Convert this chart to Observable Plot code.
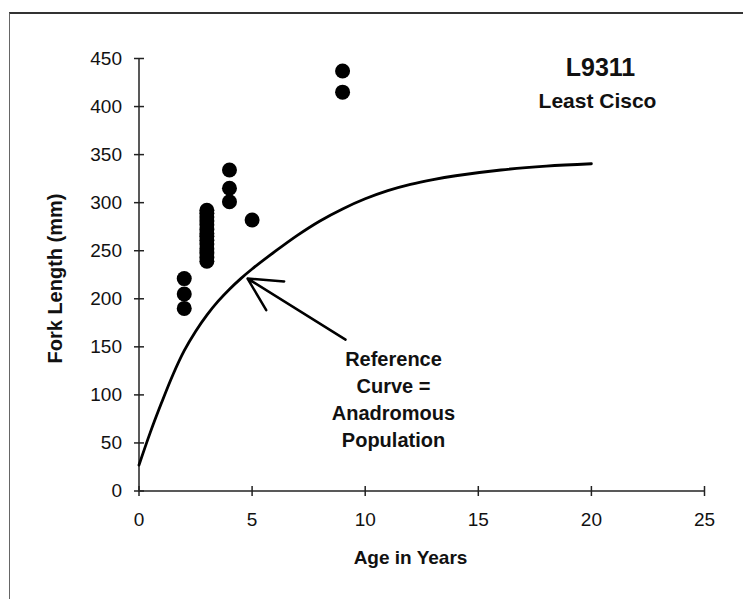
<!DOCTYPE html>
<html><head><meta charset="utf-8">
<script src="https://cdn.jsdelivr.net/npm/d3@7"></script>
<script src="https://cdn.jsdelivr.net/npm/@observablehq/plot@0.6"></script>
<style>
html,body{margin:0;padding:0;background:#fff;}
#wrap{position:relative;width:743px;height:599px;overflow:hidden;background:#fff;}
#wrap svg{position:absolute;left:0;top:0;}
#frame{position:absolute;left:9px;top:12px;right:-5px;bottom:-5px;border-top:2px solid #333;border-left:1.5px solid #666;pointer-events:none;}
</style></head><body>
<div id="wrap"><div id="frame"></div></div>
<script>
// Observed fish (age in years, fork length in mm)
const obsAge    = [2, 2, 2, 3, 3, 3, 3, 3, 3, 3, 3, 3, 3, 3, 3, 3, 3, 4, 4, 4, 5, 9, 9];
const obsLength = [190, 205, 221, 239, 243, 248, 252, 257, 261, 265, 268, 272, 277, 281, 285, 289, 292, 301, 315, 334, 282, 415, 437];

// Reference curve (anadromous population)
const refAge    = [0, 0.5, 1, 1.5, 2, 2.5, 3, 3.5, 4, 4.5, 5, 6, 7, 8, 9, 10, 11, 12, 13, 14, 16, 18, 20];
const refLength = [27, 61, 92, 121, 146, 166, 183, 197.5, 210, 221, 231, 249, 266, 281, 293.5, 304, 312.5, 319, 324, 328, 334, 338, 340.5];

const xTicks = [0, 5, 10, 15, 20, 25];
const yTicks = [0, 50, 100, 150, 200, 250, 300, 350, 400, 450];

const titleText = "L9311";
const subtitleText = "Least Cisco";
const xLabel = "Age in Years";
const yLabel = "Fork Length (mm)";
const noteLines = ["Reference", "Curve =", "Anadromous", "Population"];

const hTick = {draw(ctx) { ctx.moveTo(-5, 0); ctx.lineTo(5, 0); }};
const vTick = {draw(ctx) { ctx.moveTo(0, -5); ctx.lineTo(0, 5); }};

const W = 743, H = 599, mL = 138.5, mR = 39, mT = 58, mB = 108.5;

const chart = Plot.plot({
  width: W, height: H,
  marginLeft: mL, marginRight: mR, marginTop: mT, marginBottom: mB,
  x: {domain: [0, 25]},
  y: {domain: [0, 450]},
  style: {fontFamily: "'Liberation Sans', Arial, sans-serif", color: "#111", background: "transparent", overflow: "visible"},
  marks: [
    Plot.ruleX([0], {y1: 0, y2: 450, stroke: "#222", strokeWidth: 1.5}),
    Plot.ruleY([0], {x1: 0, x2: 25, stroke: "#222", strokeWidth: 1.5}),
    Plot.dot(yTicks, {x: 0, y: d => d, symbol: hTick, fill: "none", stroke: "#222", strokeWidth: 1.5}),
    Plot.dot(xTicks, {x: d => d, y: 0, symbol: vTick, fill: "none", stroke: "#222", strokeWidth: 1.5}),
    Plot.axisX(xTicks, {tickSize: 0, tickPadding: 21, fontSize: 19, label: null}),
    Plot.axisY(yTicks, {tickSize: 0, tickPadding: 17, fontSize: 19, label: null}),
    Plot.line(refAge, {x: refAge, y: refLength, curve: "catmull-rom", stroke: "#000", strokeWidth: 2.8}),
    Plot.dot(obsAge, {x: obsAge, y: obsLength, r: 7.5, fill: "#000", stroke: "none"}),
    Plot.arrow([0], {x1: 9.13, y1: 157.5, x2: 4.8, y2: 221, headLength: 22, headAngle: 55, stroke: "#000", strokeWidth: 2.5}),
    Plot.text([noteLines.join("\n")], {frameAnchor: "top-left", dx: 393 - mL, dy: 397 - mT, lineAnchor: "middle", lineHeight: 1.35, fontSize: 20, fontWeight: "bold", textAnchor: "middle", fill: "#111"}),
    Plot.text([titleText], {frameAnchor: "top-left", dx: 600 - mL, dy: 67 - mT, lineAnchor: "middle", fontSize: 25, fontWeight: "bold", textAnchor: "middle", fill: "#111"}),
    Plot.text([subtitleText], {frameAnchor: "top-left", dx: 597 - mL, dy: 101 - mT, lineAnchor: "middle", fontSize: 21, fontWeight: "bold", textAnchor: "middle", fill: "#111"}),
    Plot.text([xLabel], {frameAnchor: "top-left", dx: 410 - mL, dy: 557 - mT, lineAnchor: "middle", fontSize: 19, fontWeight: "bold", textAnchor: "middle", fill: "#111"}),
    Plot.text([yLabel], {frameAnchor: "top-left", dx: 55 - mL, dy: 278 - mT, lineAnchor: "middle", rotate: -90, fontSize: 20, fontWeight: "bold", textAnchor: "middle", fill: "#111"})
  ]
});
document.getElementById("wrap").prepend(chart);
</script>
</body></html>
